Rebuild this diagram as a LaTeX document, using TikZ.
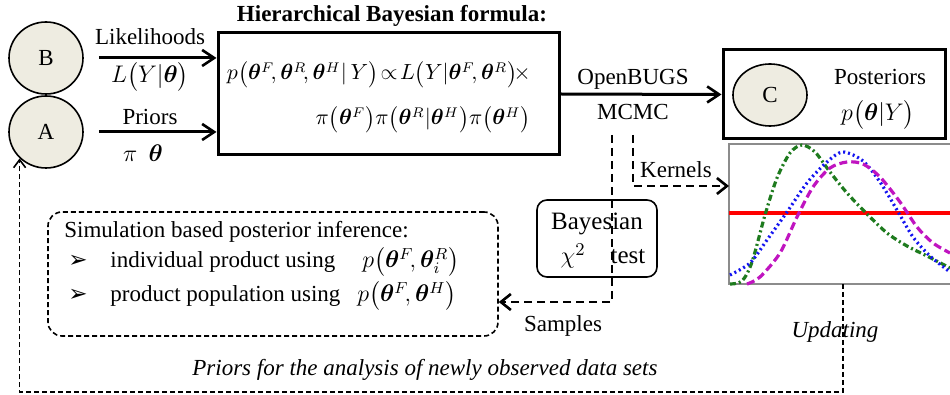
\documentclass[tikz,border=0pt]{standalone}
\usepackage{fontspec}
\setmainfont{Liberation Serif}
\newfontfamily\dingfont{DejaVu Sans}
\usepackage{amsmath}
\usepackage{bm}
\usepackage{tikz}
\definecolor{beige100}{HTML}{EEECE1}
\definecolor{gray500}{HTML}{8C8C8C}
\definecolor{green700}{HTML}{1E7B1E}
\definecolor{blue500}{HTML}{1414F0}
\definecolor{purple500}{HTML}{C014C0}
\definecolor{red500}{HTML}{FF0000}
\usetikzlibrary{arrows.meta,shapes.geometric,positioning}
\tikzstyle{bubble}=[ellipse, draw=black, fill=beige100, line width=0.8pt, minimum width=37pt, minimum height=36pt, inner sep=0pt]
\tikzstyle{panel}=[rectangle, draw=black, line width=1.5pt, inner sep=0pt]
\tikzstyle{roundbox}=[rectangle, draw=black, rounded corners=5pt, line width=0.8pt, inner sep=0pt]
\tikzstyle{dashbox}=[rectangle, draw=black, rounded corners=7pt, line width=0.8pt, dash pattern=on 2.5pt off 1.5pt, inner sep=0pt]
\tikzstyle{flow}=[line width=1.5pt, -{Straight Barb[length=6pt,width=8pt,line width=1.3pt]}]
\tikzstyle{dflow}=[line width=1.4pt, dash pattern=on 4pt off 2.5pt, -{Straight Barb[length=5pt,width=8pt,line width=1.3pt]}]
\tikzstyle{backline}=[line width=0.7pt, dash pattern=on 2.5pt off 1.5pt, -{Straight Barb[length=4pt,width=6pt,line width=0.8pt]}]
\tikzstyle{txt}=[anchor=base, inner sep=0pt]
\tikzstyle{lefttxt}=[anchor=base west, inner sep=0pt]
\tikzstyle{formula}=[anchor=base east, inner sep=0pt, font=\fontsize{10.6}{13}\selectfont]
\newcommand{\tb}{\bm\theta}

\begin{document}
\begin{tikzpicture}[x=0.5pt, y=-0.5pt, every node/.style={font=\fontsize{11.5}{14}\selectfont}]
			\useasboundingbox (0,0) rectangle (950,395);
			% inputs
			\node[bubble] (B) at (46,58) {B};
			\node[bubble] (A) at (46,132) {A};
			\node[panel, minimum width=170.5pt, minimum height=61pt] (F) at (388.5,94) {};
			\node[txt, font=\fontsize{11.5}{14}\selectfont\bfseries] (title) at (392,22) {Hierarchical Bayesian formula:};
			\node[formula] (f1) at (531,80) {$p\bigl(\tb^F\!,\tb^R\!,\tb^H|\,Y\bigr)\!\propto\! L\bigl(Y|\tb^F\!,\tb^R\bigr)\!\times$};
			\node[formula] (f2) at (531,125) {$\pi\bigl(\tb^F\bigr)\pi\bigl(\tb^R|\tb^H\bigr)\pi\bigl(\tb^H\bigr)$};
			\node[txt] (lik) at (150,45) {Likelihoods};
			\node (likf) at (150,77) {$L\bigl(Y|\tb\bigr)$};
			\node[txt] (pri) at (150,125) {Priors};
			\node (prif) at (143,153) {$\pi\ \ \tb$};
			\draw[flow, shorten <=7.5pt] (B.east) -- (B.east -| F.west);
			\draw[flow, shorten <=7.5pt] (A.east) -- (A.east -| F.west);
			% posteriors
			\node[panel, minimum width=111pt, minimum height=44.5pt] (P) at (834,94.5) {};
			\node[bubble, minimum height=31pt] (C) at (770,95) {C};
			\node[txt] (post) at (880,85) {Posteriors};
			\node (postf) at (878,115) {$p\bigl(\tb|Y\bigr)$};
			\draw[flow] (F.east) -- (P.west);
			\node[txt] (bugs) at (633,85) {OpenBUGS};
			\node[txt] (mcmc) at (633,120) {MCMC};
			% kernel plot
			\coordinate (pNW) at (729,144);
			\coordinate (pSW) at (729,284);
			\draw[gray500, line width=0.6pt] (950,144) -| (pSW) -- (950,284);
			\draw[red500, line width=1.6pt] (pNW |- 0,213) -- (950,213);
			\draw[green700, line width=1.6pt, dash pattern=on 3pt off 1.5pt on 1pt off 1.5pt] plot[smooth] coordinates {(730,284) (742,281) (752,262) (765,215) (777,178) (790,153) (802,145) (815,152) (830,172) (847,193) (867,214) (887,233) (907,246) (927,256) (950,268)};
			\draw[blue500, line width=1.6pt, dash pattern=on 1pt off 1.5pt] plot[smooth] coordinates {(730,275) (750,263) (767,240) (787,212) (807,183) (827,162) (843,152) (863,161) (880,182) (897,210) (913,237) (930,256) (950,272)};
			\draw[purple500, line width=1.6pt, dash pattern=on 4pt off 2pt] plot[smooth] coordinates {(747,284) (760,277) (780,253) (797,217) (813,187) (830,168) (847,162) (863,164) (880,177) (900,202) (917,227) (933,243) (950,253)};
			% test and samples
			\node[roundbox, minimum width=60pt, minimum height=38.5pt] (T) at (597,238.5) {};
			\node[txt, font=\fontsize{12.5}{15}\selectfont] (bay1) at (597,230) {Bayesian};
			\node[txt, font=\fontsize{12.5}{15}\selectfont] (bay2) at (603,264) {$\chi^{2}$\quad test};
			\node[dashbox, minimum width=225pt, minimum height=62pt] (S) at (273,274) {};
			\node[lefttxt] (sim) at (64,238) {Simulation based posterior inference:};
			\node[lefttxt] (b1) at (68,268) {\dingfont ➢};
			\node[lefttxt] (i1) at (110,268) {individual product using};
			\node[lefttxt] (g1) at (362,268) {$p\bigl(\tb^F\!,\tb^R_i\bigr)$};
			\node[lefttxt] (b2) at (68,302) {\dingfont ➢};
			\node[lefttxt] (i2) at (110,302) {product population using};
			\node[lefttxt] (g2) at (357,302) {$p\bigl(\tb^F\!,\tb^H\bigr)$};
			\coordinate (sTop) at (612,135);
			\coordinate (sTurn) at (612,302);
			\coordinate (kTop) at (633,135);
			\coordinate (kTurn) at (633,186);
			\draw[dflow] (sTop) -- (sTurn) -- (sTurn -| S.east);
			\draw[dflow] (kTop) -- (kTurn) -- (kTurn -| pNW);
			\node[txt] (kern) at (676,178) {Kernels};
			\node[txt] (samp) at (563,332) {Samples};
			% updating loop
			\coordinate (uTop) at (843,284);
			\coordinate (uBot) at (843,392);
			\draw[backline] (uTop) -- (uBot) -| (A.225);
			\node[txt, font=\fontsize{11.5}{14}\selectfont\itshape] (upd) at (835,338) {Updating};
			\node[lefttxt, font=\fontsize{11.5}{14}\selectfont\itshape] (newp) at (192,376) {Priors for the analysis of newly observed data sets};
		\end{tikzpicture}
\end{document}
